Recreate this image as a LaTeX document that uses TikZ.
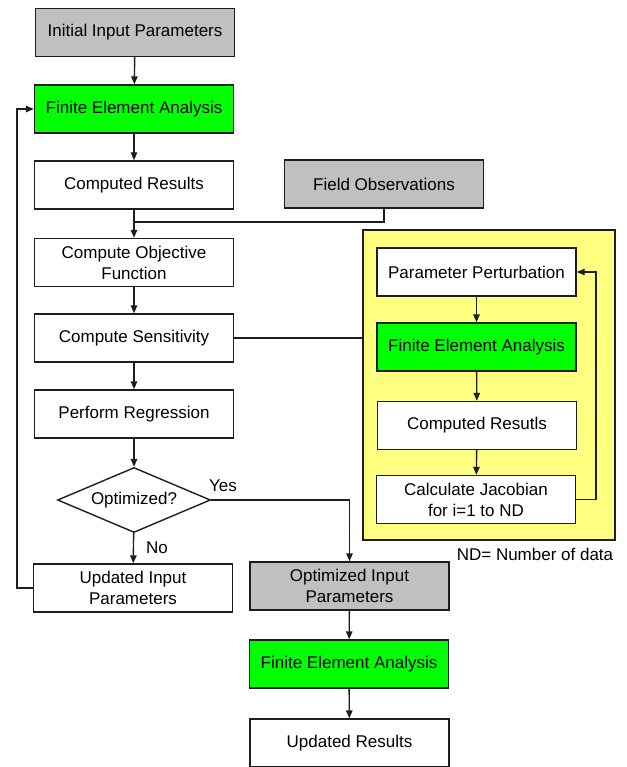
\documentclass[tikz,border=0pt]{standalone}
\usepackage{fontspec}
\setmainfont{Liberation Sans}
\usetikzlibrary{shapes.geometric,arrows.meta,calc}
\definecolor{boxgray}{RGB}{192,192,192}
\definecolor{boxgreen}{RGB}{0,255,0}
\definecolor{boxyellow}{RGB}{255,255,128}
\definecolor{ink}{RGB}{30,30,30}
\tikzset{
  box/.style={draw=ink, line width=1.4pt, rectangle, minimum width=199pt, minimum height=48pt,
    inner sep=2pt, align=center, font=\fontsize{17}{21}\selectfont, text=black},
  graybox/.style={box, fill=boxgray},
  greenbox/.style={box, fill=boxgreen},
  whitebox/.style={box, fill=white},
  arr/.style={draw=ink, line width=1.4pt, -{Triangle[length=8pt,width=6.5pt]}},
  ln/.style={draw=ink, line width=1.4pt},
  lbl/.style={font=\fontsize{17}{21}\selectfont, text=black, inner sep=0pt}
}
\begin{document}
\begin{tikzpicture}[x=1pt,y=-1pt]
\useasboundingbox (0,0) rectangle (626,767);
% yellow panel
\node[draw=ink, line width=1.4pt, fill=boxyellow, minimum width=252pt, minimum height=310pt, inner sep=0pt] (yel) at (489,385) {};
% main column
\node[graybox]  (init)  at (135,32.5) {Initial Input Parameters};
\node[greenbox] (fea1)  at (134,109) {Finite Element Analysis};
\node[whitebox] (cres)  at (134,185) {Computed Results};
\node[graybox]  (field) at (384,184) {Field Observations};
\node[whitebox] (cobj)  at (134,262.5) {Compute Objective\\Function};
\node[whitebox] (csens) at (134,338) {Compute Sensitivity};
\node[whitebox] (preg)  at (134,414) {Perform Regression};
\node[draw=ink, line width=1.4pt, fill=white, diamond, aspect=2.35, minimum width=153pt, minimum height=65pt, inner sep=0pt, font=\fontsize{17}{21}\selectfont] (dia) at (134,500) {Optimized?};
\node[whitebox] (uip)   at (133,588) {Updated Input\\Parameters};
% inner loop
\node[whitebox] (pp)   at (476.5,272) {Parameter Perturbation};
\node[greenbox] (fea2) at (476.5,347) {Finite Element Analysis};
\node[whitebox] (cr2)  at (477,425.5) {Computed Resutls};
\node[whitebox] (jac)  at (476,499.5) {Calculate Jacobian\\for i=1 to ND};
\node[lbl] (nd) at (535,554) {ND= Number of data};
% lower column
\node[graybox]  (oip)  at (349.5,586) {Optimized Input\\Parameters};
\node[greenbox] (fea3) at (349,664) {Finite Element Analysis};
\node[whitebox] (ures) at (349.5,743) {Updated Results};
% connectors
\draw[arr] (init) -- (fea1);
\draw[arr] (fea1) -- (cres);
\draw[arr] (cres) -- (cobj);
\coordinate (jn) at (134,222);
\draw[ln] (field.south) |- (jn);
\draw[arr] (cobj) -- (csens);
\draw[arr] (csens) -- (preg);
\draw[arr] (preg) -- (dia);
\draw[arr] (dia) -- (uip) node[lbl, pos=0.5, right=12pt] (no) {No};
\draw[arr] (dia.east) -| (oip.north);
\node[lbl] (yes) at (223,486) {Yes};
\coordinate (lp) at (17,109);
\draw[arr] (uip.west) -| (lp) -- (fea1.west);
\draw[ln] (csens.east) -- (csens.east -| yel.west);
\draw[arr] (pp) -- (fea2);
\draw[arr] (fea2) -- (cr2);
\draw[arr] (cr2) -- (jac);
\coordinate (fb) at (596,272);
\draw[arr] (jac.east) -| (fb) -- (pp.east);
\draw[arr] (oip) -- (fea3);
\draw[arr] (fea3) -- (ures);
\end{tikzpicture}
\end{document}
